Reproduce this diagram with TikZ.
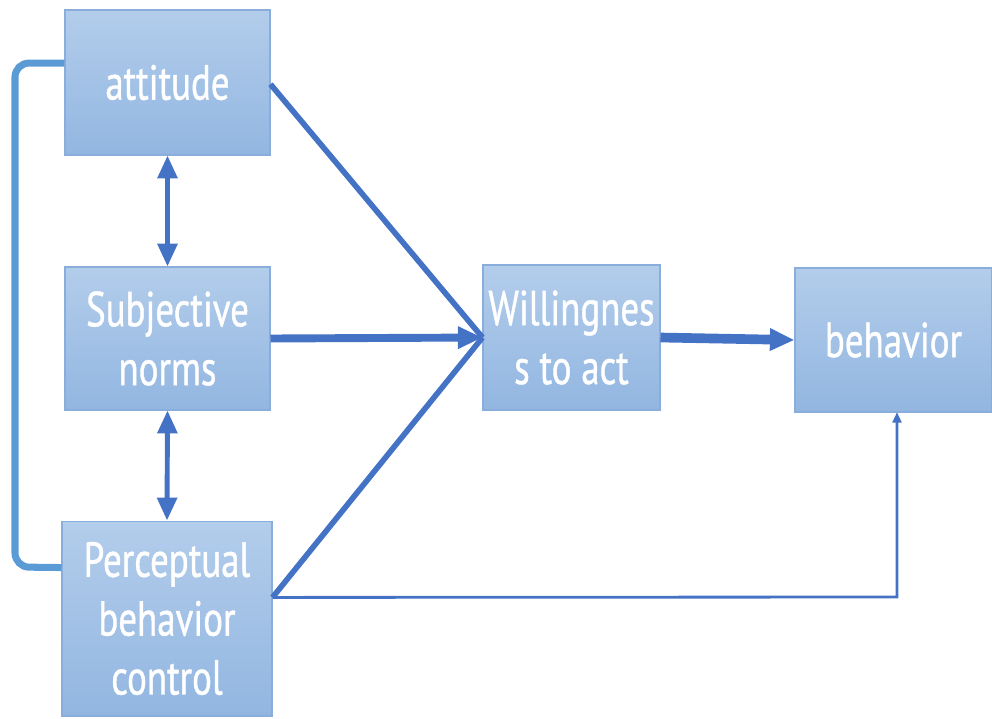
\documentclass[tikz,border=0pt]{standalone}
\usepackage{fontspec}
\setmainfont{PT Sans}[FakeStretch=0.75, FakeBold=0.8]
\usetikzlibrary{arrows.meta}
\definecolor{boxtop}{HTML}{B3CDEB}
\definecolor{boxbot}{HTML}{92B6E1}
\definecolor{boxline}{HTML}{8AAEDB}
\definecolor{darkblue}{HTML}{4472C4}
\definecolor{lightblue}{HTML}{5B9BD5}
\tikzset{box/.style={draw=boxline, line width=0.6pt, top color=boxtop, bottom color=boxbot, text=white, align=center, font=\fontsize{28}{33.5}\selectfont, inner sep=0pt}}
\begin{document}
\begin{tikzpicture}[x=0.02cm, y=-0.02cm, line cap=butt, line join=miter, >={Triangle[length=14pt,width=12pt]}]
	\useasboundingbox (0,0) rectangle (992,718);
	\node[box, minimum width=4.1cm, minimum height=2.9cm] (att) at (167.5,82.5) {attitude};
	\node[box, minimum width=4.1cm, minimum height=2.86cm] (subj) at (167.5,338.5) {Subjective\\norms};
	\node[box, minimum width=4.2cm, minimum height=3.9cm] (pbc) at (167,618.5) {Perceptual\\behavior\\control};
	\node[box, minimum width=3.54cm, minimum height=2.9cm] (will) at (571.5,337.5) {Willingnes\\s to act};
	\node[box, minimum width=3.94cm, minimum height=2.88cm] (beh) at (893.5,340) {behavior};
	\coordinate (pbcout) at ([yshift=12pt]pbc.east);
	\coordinate (attout) at ([yshift=-1pt]att.east);
	% bracket on the left
	\draw[lightblue, line width=4pt, rounded corners=8pt] ([yshift=11pt]att.west) -- (15,63) -- (15,567) -- ([yshift=29pt]pbc.west);
	% double arrows
	\draw[darkblue, line width=2.8pt, {Triangle[length=13pt,width=11pt]}-{Triangle[length=13pt,width=11pt]}] (att.south) -- (subj.north);
	\draw[darkblue, line width=2.8pt, {Triangle[length=13pt,width=11pt]}-{Triangle[length=13pt,width=11pt]}] (subj.south) -- (pbc.north);
	% to willingness
	\draw[darkblue, line width=3.2pt] (attout) -- (will.west);
	\draw[darkblue, line width=3.2pt] (pbcout) -- (will.west);
	\draw[darkblue, line width=4.5pt, ->] (subj.east) -- (will.west);
	\draw[darkblue, line width=5.5pt, ->] (will.east) -- (beh.west);
	\draw[darkblue, line width=1.6pt, -{Triangle[length=6pt,width=5pt]}] (pbcout) -- (897,597) -- (897,412);
\end{tikzpicture}
\end{document}
